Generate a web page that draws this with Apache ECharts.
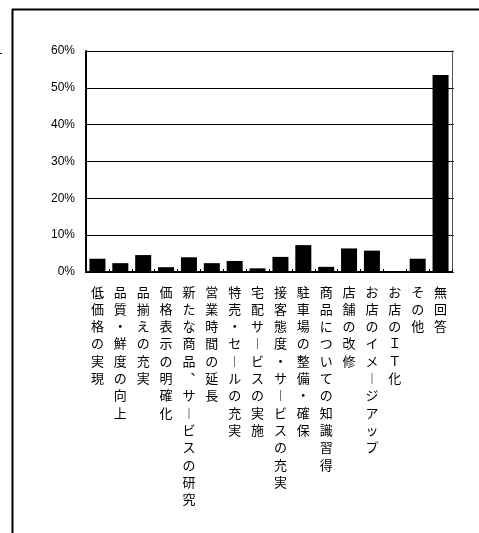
<!DOCTYPE html>
<html>
<head>
<meta charset="utf-8">
<script src="https://cdn.jsdelivr.net/npm/echarts@6/dist/echarts.min.js"></script>
<style>
  html, body { margin: 0; padding: 0; background: #fff; }
  #chart { width: 479px; height: 533px; }
</style>
</head>
<body>
<div id="chart"></div>
<script>
// Survey answers (category names) and their shares in percent
const categories = [
  '低価格の実現',
  '品質・鮮度の向上',
  '品揃えの充実',
  '価格表示の明確化',
  '新たな商品、サービスの研究',
  '営業時間の延長',
  '特売・セールの充実',
  '宅配サービスの実施',
  '接客態度・サービスの充実',
  '駐車場の整備・確保',
  '商品についての知識習得',
  '店舗の改修',
  'お店のイメージアップ',
  'お店のＩＴ化',
  'その他',
  '無回答'
];
const shares = [3.6, 2.4, 4.6, 1.3, 4.0, 2.4, 3.0, 1.0, 4.1, 7.3, 1.4, 6.4, 5.8, 0, 3.6, 53.5];
const yTicks = [0, 10, 20, 30, 40, 50, 60];

// Stack characters top-to-bottom, using vertical forms for the long vowel mark and comma
function verticalText(s) {
  return Array.from(s).map(function (c) {
    if (c === 'ー') return '︱';
    if (c === '、') return '︑';
    return c;
  }).join('\n');
}

const chart = echarts.init(document.getElementById('chart'), null, { renderer: 'canvas' });
chart.setOption({
  animation: false,
  backgroundColor: '#ffffff',
  grid: { left: 86, top: 51, right: 27, bottom: 261, containLabel: false },
  xAxis: {
    type: 'category',
    data: categories,
    axisLine: { show: true, lineStyle: { color: '#000', width: 2 } },
    axisTick: { show: true, inside: true, length: 3, lineStyle: { color: '#000' } },
    axisLabel: {
      interval: 0,
      margin: 11,
      color: '#000',
      fontFamily: '"Noto Sans CJK JP", sans-serif',
      fontSize: 13,
      lineHeight: 17.3,
      verticalAlign: 'top',
      formatter: verticalText
    }
  },
  yAxis: [
    {
      type: 'value',
      min: 0,
      max: 60,
      interval: 10,
      axisLine: { show: true, lineStyle: { color: '#000', width: 2 } },
      axisTick: { show: false },
      splitLine: { show: true, lineStyle: { color: '#000', width: 1 } },
      axisLabel: {
        margin: 11,
        color: '#000',
        fontFamily: '"Liberation Sans", Arial, sans-serif',
        fontSize: 12,
        formatter: function (v) { return yTicks.indexOf(v) >= 0 ? v + '%' : ''; }
      }
    },
    {
      type: 'value',
      position: 'right',
      min: 0,
      max: 60,
      interval: 10,
      axisLine: { show: true, lineStyle: { color: '#555', width: 1 } },
      axisTick: { show: true, length: 2, lineStyle: { color: '#333' } },
      splitLine: { show: false },
      axisLabel: { show: false }
    }
  ],
  series: [{
    type: 'bar',
    data: shares,
    yAxisIndex: 0,
    barCategoryGap: '30%',
    itemStyle: { color: '#000' }
  }],
  graphic: [
    // outer frame: left and top edges
    { type: 'line', shape: { x1: 12.5, y1: 9, x2: 12.5, y2: 533 }, style: { stroke: '#000', lineWidth: 2 } },
    { type: 'line', shape: { x1: 12, y1: 9.5, x2: 479, y2: 9.5 }, style: { stroke: '#000', lineWidth: 2 } },
    { type: 'line', shape: { x1: 0, y1: 53.5, x2: 2, y2: 53.5 }, style: { stroke: '#000', lineWidth: 1 } }
  ]
});
</script>
</body>
</html>
